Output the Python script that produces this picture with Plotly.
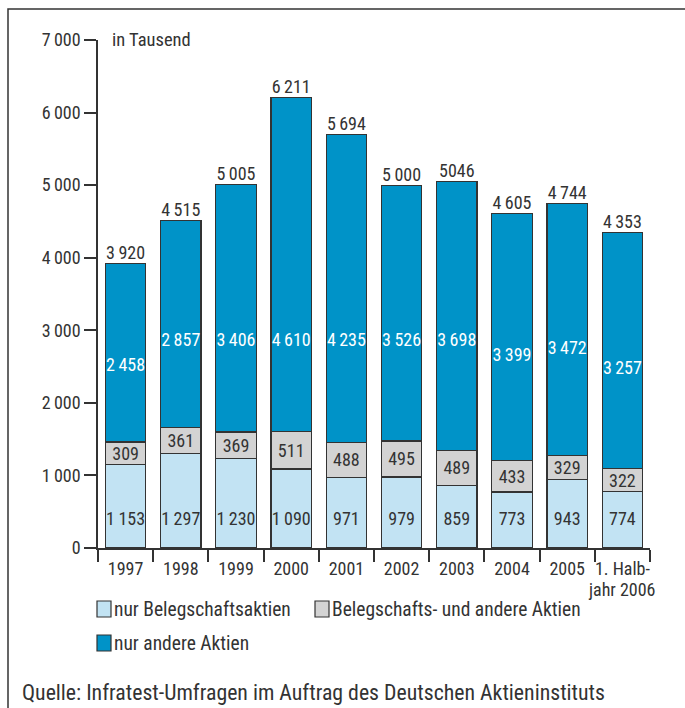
import plotly.graph_objects as go

categories = ["1997", "1998", "1999", "2000", "2001", "2002", "2003", "2004", "2005", "1. Halb-"]
last_label_line2 = "jahr 2006"
nur_beleg = [1153, 1297, 1230, 1090, 971, 979, 859, 773, 943, 774]
beleg_und_andere = [309, 361, 369, 511, 488, 495, 489, 433, 329, 322]
nur_andere = [2458, 2857, 3406, 4610, 4235, 3526, 3698, 3399, 3472, 3257]
total_labels = ["3\u2009920", "4\u2009515", "5\u2009005", "6\u2009211", "5\u2009694",
                "5\u2009000", "5046", "4\u2009605", "4\u2009744", "4\u2009353"]
y_ticks = [0, 1000, 2000, 3000, 4000, 5000, 6000, 7000]
y_ticktext = ["0", "1\u2009000", "2\u2009000", "3\u2009000", "4\u2009000", "5\u2009000", "6\u2009000", "7\u2009000"]


def fmt(v):
    return f"{v:,}".replace(",", "\u2009")


C_LIGHT = "#c2e3f3"
C_GRAY = "#d3d3d3"
C_BLUE = "#0093c8"
C_LINE = "#333333"
TXT = "#333333"
FONT = "Roboto Condensed, Liberation Sans Narrow, Arial Narrow, sans-serif"
NUM = 18

x = list(range(len(categories)))
boundaries = [i - 0.5 for i in range(len(categories) + 1)]
totals = [a + b + c for a, b, c in zip(nur_beleg, beleg_und_andere, nur_andere)]
top_base = [a + b for a, b in zip(nur_beleg, beleg_und_andere)]

fig = go.Figure()
bw = 0.73
fig.add_trace(go.Bar(x=x, y=nur_beleg, width=bw, marker=dict(color=C_LIGHT, line=dict(color=C_LINE, width=1.2)),
                     name="nur Belegschaftsaktien", hoverinfo="y"))
fig.add_trace(go.Bar(x=x, y=beleg_und_andere, width=bw, marker=dict(color=C_GRAY, line=dict(color=C_LINE, width=1.2)),
                     name="Belegschafts- und andere Aktien",
                     text=[fmt(v) for v in beleg_und_andere], textposition="inside", insidetextanchor="middle",
                     textangle=0, textfont=dict(color=TXT, size=NUM, family=FONT), hoverinfo="y"))
fig.add_trace(go.Bar(x=x, y=nur_andere, width=bw, marker=dict(color=C_BLUE, line=dict(color=C_LINE, width=1.2)),
                     name="nur andere Aktien", hoverinfo="y"))

# labels: bottom segment (fixed height), blue segment, totals
fig.add_trace(go.Scatter(x=x, y=[385] * len(x), mode="text", text=[fmt(v) for v in nur_beleg],
                         textfont=dict(color=TXT, size=NUM, family=FONT), hoverinfo="skip"))
blue_y = [min(tb + v * 0.42, 2850) for tb, v in zip(top_base, nur_andere)]
fig.add_trace(go.Scatter(x=x, y=blue_y, mode="text", text=[fmt(v) for v in nur_andere],
                         textfont=dict(color="white", size=NUM, family=FONT), hoverinfo="skip"))
fig.add_trace(go.Scatter(x=x, y=totals, mode="text", text=total_labels, textposition="top center",
                         textfont=dict(color=TXT, size=NUM, family=FONT), hoverinfo="skip"))

fig.update_layout(
    barmode="stack",
    width=685, height=708,
    margin=dict(l=98, r=35, t=40, b=160),
    paper_bgcolor="white", plot_bgcolor="white",
    showlegend=False,
    font=dict(family=FONT, size=NUM, color=TXT),
    uniformtext=dict(minsize=NUM, mode="show"),
    xaxis=dict(tickmode="array", tickvals=x, ticktext=categories, range=[-0.5, len(x) - 0.5],
               showline=True, linecolor=C_LINE, linewidth=1.5, ticks="outside",
               ticklen=4, tickwidth=1, tickcolor="rgba(0,0,0,0)", showgrid=False, zeroline=False,
               minor=dict(tickmode="array", tickvals=boundaries, ticks="outside", ticklen=12,
                          tickwidth=1.5, tickcolor=C_LINE, showgrid=False),
               tickangle=0, tickfont=dict(size=NUM, color=TXT, family=FONT)),
    yaxis=dict(range=[0, 7000], tickmode="array", tickvals=y_ticks, ticktext=y_ticktext,
               showline=True, linecolor=C_LINE, linewidth=1.5, ticks="outside", ticklen=12,
               tickwidth=1.5, tickcolor=C_LINE, showgrid=False, zeroline=False,
               tickfont=dict(size=NUM, color=TXT, family=FONT)),
)

pw, ph = 552, 508  # plot area size in px (98..650, 40..548)


def px_x(p):
    return (p - 98) / pw


def px_y(p):
    return (548 - p) / ph


# second line of last category label
fig.add_annotation(xref="x", yref="paper", x=x[-1], y=px_y(589), text=last_label_line2, showarrow=False,
                   xanchor="center", yanchor="middle", font=dict(size=NUM, color=TXT, family=FONT))

# frame
fig.add_shape(type="rect", xref="paper", yref="paper", x0=px_x(8), x1=px_x(720), y0=px_y(760), y1=px_y(9),
              line=dict(color=C_LINE, width=1.5), fillcolor="rgba(0,0,0,0)", layer="below")

fig.add_annotation(xref="paper", yref="y", x=px_x(110), y=7000, text="in Tausend", showarrow=False,
                   xanchor="left", yanchor="middle", font=dict(size=18.5, color=TXT, family=FONT))

# legend (manual)
legend_items = [("nur Belegschaftsaktien", C_LIGHT, 97, 609),
                ("Belegschafts- und andere Aktien", C_GRAY, 315, 609),
                ("nur andere Aktien", C_BLUE, 97, 643)]
for label, col, lx, ly in legend_items:
    fig.add_shape(type="rect", xref="paper", yref="paper", x0=px_x(lx), x1=px_x(lx + 14),
                  y0=px_y(ly + 8), y1=px_y(ly - 8),
                  line=dict(color=C_LINE, width=1.2), fillcolor=col)
    fig.add_annotation(xref="paper", yref="paper", x=px_x(lx + 15), y=px_y(ly), text=label,
                       showarrow=False, xanchor="left", yanchor="middle",
                       font=dict(size=19.5, color=TXT, family=FONT))

fig.add_annotation(xref="paper", yref="paper", x=px_x(20), y=px_y(692),
                   text="Quelle: Infratest-Umfragen im Auftrag des Deutschen Aktieninstituts",
                   showarrow=False, xanchor="left", yanchor="middle",
                   font=dict(size=21.8, color=TXT, family=FONT))

fig.write_html("out.html", config={"displayModeBar": False},
               post_script="document.body.style.margin='0';document.body.style.overflow='hidden';")
